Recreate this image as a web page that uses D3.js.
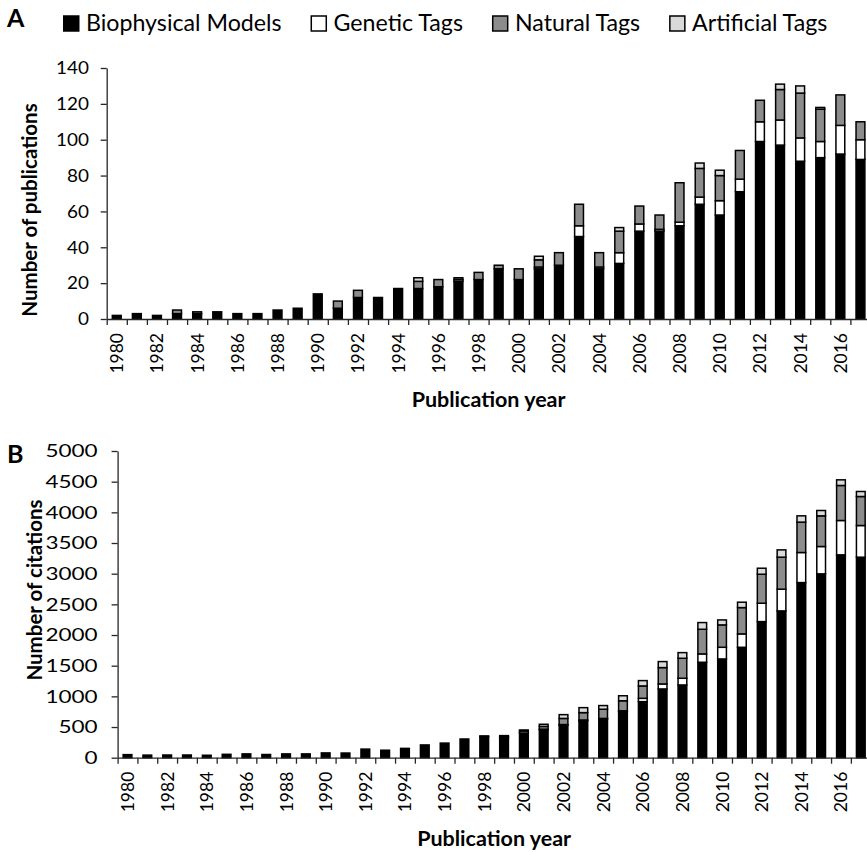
<!DOCTYPE html>
<html>
<head>
<meta charset="utf-8">
<script src="https://cdn.jsdelivr.net/npm/d3@7"></script>
<style>
  body { margin: 0; background: #fff; }
  svg { display: block; font-family: Lato, 'Open Sans', sans-serif; }
</style>
</head>
<body>
<svg id="chart" width="867" height="852"></svg>
<script>
const years = [1980, 1981, 1982, 1983, 1984, 1985, 1986, 1987, 1988, 1989,
  1990, 1991, 1992, 1993, 1994, 1995, 1996, 1997, 1998, 1999,
  2000, 2001, 2002, 2003, 2004, 2005, 2006, 2007, 2008, 2009,
  2010, 2011, 2012, 2013, 2014, 2015, 2016, 2017];

const seriesNames = ['Biophysical Models', 'Genetic Tags', 'Natural Tags', 'Artificial Tags'];
const seriesColors = ['#000000', '#ffffff', '#8c8c8c', '#d9d9d9'];

// panel A: number of publications
const pubBio = [2, 3, 2, 3, 3, 4, 3, 3, 5, 6, 14, 6, 12, 12, 17, 17, 18, 21, 22, 28,
  22, 28, 30, 46, 28, 31, 49, 49, 52, 64, 58, 71, 99, 97, 88, 90, 92, 89];
const pubGen = [0, 0, 0, 0, 0, 0, 0, 0, 0, 0, 0, 0, 0, 0, 0, 0, 0, 1, 0, 0,
  0, 1, 0, 6, 1, 6, 4, 1, 2, 4, 8, 7, 11, 14, 13, 9, 16, 11];
const pubNat = [0, 0, 0, 2, 1, 0, 0, 0, 0, 0, 0, 4, 4, 0, 0, 4, 4, 1, 4, 2,
  6, 4, 7, 12, 8, 12, 10, 8, 22, 16, 14, 16, 12, 17, 25, 18, 17, 10];
const pubArt = [0, 0, 0, 0, 0, 0, 0, 0, 0, 0, 0, 0, 0, 0, 0, 2, 0, 0, 0, 0,
  0, 2, 0, 0, 0, 2, 0, 0, 0, 3, 3, 0, 0, 3, 4, 1, 0, 0];
const pubTicks = [0, 20, 40, 60, 80, 100, 120, 140];

// panel B: number of citations
const citBio = [50, 42, 44, 44, 40, 55, 62, 52, 62, 62, 78, 76, 140, 122, 152, 208, 238, 305, 345, 320,
  400, 455, 530, 600, 630, 750, 914, 1121, 1186, 1556, 1610, 1800, 2219, 2393, 2855, 2997, 3307, 3269];
const citGen = [0, 0, 0, 0, 0, 0, 0, 0, 0, 0, 0, 0, 0, 0, 0, 0, 0, 0, 0, 0,
  0, 10, 10, 15, 10, 15, 54, 81, 109, 136, 190, 218, 299, 354, 490, 446, 560, 516];
const citNat = [0, 0, 0, 0, 0, 0, 0, 0, 0, 0, 0, 0, 0, 0, 0, 0, 0, 0, 10, 25,
  35, 45, 100, 120, 150, 163, 202, 267, 326, 402, 365, 429, 473, 522, 495, 500, 571, 473];
const citArt = [0, 0, 0, 0, 0, 0, 0, 0, 0, 0, 0, 0, 0, 0, 0, 0, 0, 0, 0, 15,
  17, 35, 62, 81, 60, 82, 87, 98, 92, 109, 81, 88, 98, 119, 103, 87, 92, 82];
const citTicks = [0, 500, 1000, 1500, 2000, 2500, 3000, 3500, 4000, 4500, 5000];

const svg = d3.select('#chart');
const keys = ['bio', 'gen', 'nat', 'art'];

function drawPanel(p) {
  const rows = years.map((yr, i) => ({
    year: yr, bio: p.values[0][i], gen: p.values[1][i], nat: p.values[2][i], art: p.values[3][i]
  }));
  const stacked = d3.stack().keys(keys)(rows);

  const x = d3.scaleBand().domain(years).range([p.left, p.right]);
  const y = d3.scaleLinear().domain([0, d3.max(p.ticks)]).range([p.bottom, p.top]);
  const bw = x.bandwidth() * 0.44;

  const g = svg.append('g');

  // bars
  g.selectAll('g.layer')
    .data(stacked)
    .join('g')
    .attr('class', 'layer')
    .attr('fill', (d, i) => seriesColors[i])
    .selectAll('rect')
    .data(d => d.filter(s => s[1] - s[0] > 0))
    .join('rect')
    .attr('x', d => x(d.data.year) + (x.bandwidth() - bw) / 2)
    .attr('y', d => y(d[1]))
    .attr('width', bw)
    .attr('height', d => y(d[0]) - y(d[1]))
    .attr('stroke', '#000')
    .attr('stroke-width', 1.5);

  // y axis
  const yAxis = g.append('g')
    .attr('transform', `translate(${p.left},0)`)
    .call(d3.axisLeft(y).tickValues(p.ticks).tickFormat(d3.format('d'))
      .tickSize(6).tickSizeOuter(0).tickPadding(p.yPad));
  yAxis.select('.domain').attr('stroke', '#262626').attr('stroke-width', 1.3);
  yAxis.selectAll('.tick line').attr('stroke', '#262626').attr('stroke-width', 1.3);
  yAxis.selectAll('.tick text')
    .attr('font-size', 18)
    .attr('fill', '#000')
    .attr('font-family', 'Lato')
    .attr('transform', `scale(${p.yTextScale},1)`);

  // x axis: ticks on band boundaries
  const xi = d3.scaleLinear().domain([0, years.length]).range([p.left, p.right]);
  const xAxis = g.append('g')
    .attr('transform', `translate(0,${p.bottom})`)
    .call(d3.axisBottom(xi).tickValues(d3.range(0, years.length + 1)).tickFormat('').tickSize(6).tickSizeOuter(0));
  xAxis.select('.domain').attr('stroke', '#262626').attr('stroke-width', 1.3);
  xAxis.selectAll('.tick line').attr('stroke', '#262626').attr('stroke-width', 1.3);

  g.selectAll('text.xlab')
    .data(years.filter(yr => yr % 2 === 0))
    .join('text')
    .attr('class', 'xlab')
    .attr('transform', d => `translate(${x(d) + x.bandwidth() / 2 + 6.5},${p.bottom + 14}) rotate(-90)`)
    .attr('text-anchor', 'end')
    .attr('font-size', 17.5)
    .text(d => d);

  // titles
  g.append('text')
    .attr('transform', `translate(${p.yTitleX},${p.yTitleY}) rotate(-90)`)
    .attr('text-anchor', 'middle')
    .attr('font-weight', 'bold')
    .attr('font-size', 20.5)
    .text(p.yTitle);

  g.append('text')
    .attr('x', (p.left + p.right) / 2)
    .attr('y', p.xTitleY)
    .attr('text-anchor', 'middle')
    .attr('font-weight', 'bold')
    .attr('font-size', 21.5)
    .text('Publication year');

  g.append('text')
    .attr('x', 7)
    .attr('y', p.letterY)
    .attr('font-weight', 'bold')
    .attr('font-size', 25)
    .text(p.letter);
}

drawPanel({
  letter: 'A', letterY: 27,
  left: 106.7, right: 870.5, top: 68, bottom: 319,
  ticks: pubTicks, yPad: 11, yTextScale: 1.05,
  values: [pubBio, pubGen, pubNat, pubArt],
  yTitle: 'Number of publications', yTitleX: 37, yTitleY: 210, xTitleY: 407
});

drawPanel({
  letter: 'B', letterY: 463,
  left: 117.6, right: 870.7, top: 451, bottom: 757.7,
  ticks: citTicks, yPad: 10, yTextScale: 1.25,
  values: [citBio, citGen, citNat, citArt],
  yTitle: 'Number of citations', yTitleX: 42, yTitleY: 590, xTitleY: 846
});

// legend
const legend = svg.append('g').attr('transform', 'translate(63,0)');
let lx = 0;
seriesNames.forEach((name, i) => {
  legend.append('rect')
    .attr('x', lx + 0.75).attr('y', 16)
    .attr('width', 15).attr('height', 15)
    .attr('fill', seriesColors[i])
    .attr('stroke', '#000')
    .attr('stroke-width', 1.5);
  const t = legend.append('text')
    .attr('x', lx + 23)
    .attr('y', 31)
    .attr('font-size', 23.2)
    .text(name);
  lx += 23 + t.node().getComputedTextLength() + 29;
});
</script>
</body>
</html>
